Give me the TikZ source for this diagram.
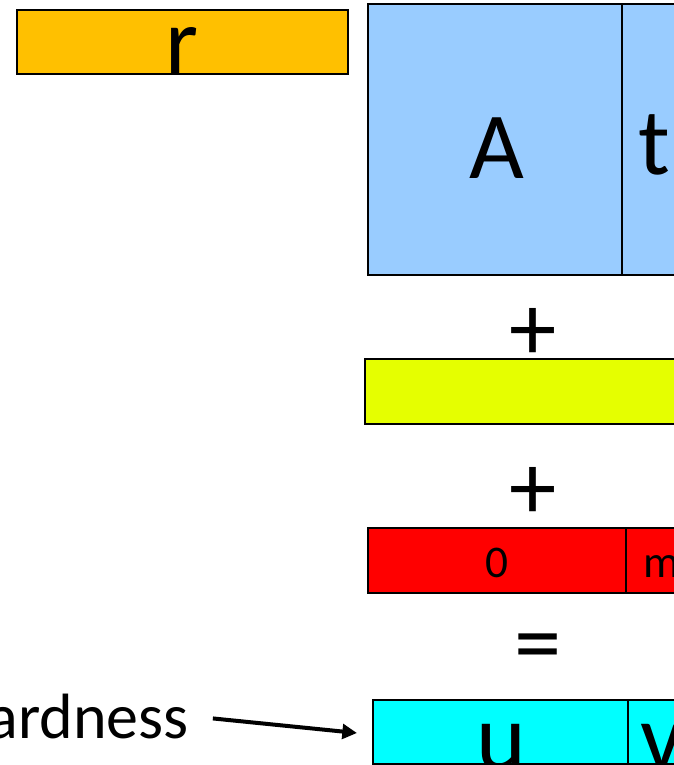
\documentclass[tikz,border=0pt]{standalone}
\usepackage{fontspec}
\setmainfont{Carlito}
\usetikzlibrary{arrows.meta}
\definecolor{rowOrange}{RGB}{255,192,0}
\definecolor{rowBlue}{RGB}{153,204,255}
\definecolor{rowLime}{RGB}{229,255,0}
\definecolor{rowRed}{RGB}{255,0,0}
\definecolor{rowCyan}{RGB}{0,255,255}
\begin{document}
\begin{tikzpicture}[x=0.75pt, y=-0.75pt, line join=miter]
% Sum of rows, pixel grid with y running down
\def\bigsz{\fontsize{71}{80}\selectfont}
\def\midsz{\fontsize{48}{56}\selectfont}
\def\smallsz{\fontsize{34}{40}\selectfont}
\providecommand{\rowLineWidth}{1.1pt}
\tikzset{
  cellbox/.style={draw=black, line width=\rowLineWidth},
  celltext/.style={anchor=base, inner sep=0pt}
}
\useasboundingbox (0,0) rectangle (674,765);
% Row r
\filldraw[cellbox, fill=rowOrange] (17,10) rectangle (348,74);
\node[celltext] (r) at (182,73) {\bigsz r};
% Block A | t
\filldraw[cellbox, fill=rowBlue] (368,4) rectangle (720,275);
\draw[cellbox] (622,4) -- (622,275);
\node[celltext] (A) at (497,178) {\bigsz A};
\node[celltext] (t) at (654,174) {\bigsz t};
% First plus
\node (plusA) at (533,334) {\bigsz +};
% Lime row
\filldraw[cellbox, fill=rowLime] (365,359) rectangle (720,424);
% Second plus
\node (plusB) at (533,493) {\bigsz +};
% Red row 0 | m
\filldraw[cellbox, fill=rowRed] (368,528) rectangle (720,593);
\draw[cellbox] (626,528) -- (626,593);
\node[celltext] (zero) at (497,577) {\smallsz 0};
\node[celltext, anchor=base west] (m) at (643,577) {\smallsz m};
% Equals
\node (eq) at (538,654) {\bigsz =};
% Result row u | v
\filldraw[cellbox, fill=rowCyan] (373,700) rectangle (720,764);
\draw[cellbox] (628,700) -- (628,764);
\node[celltext] (u) at (501,769) {\bigsz u};
\node[celltext, anchor=base west] (v) at (640,769) {\bigsz v};
% Label and arrow
\node[anchor=base east, inner sep=0pt] (lbl) at (189,738) {\midsz ardness};
\coordinate (tip) at (357,733);
\draw[line width=3pt, -{Triangle[length=11pt, width=11pt]}, shorten <=18pt] (lbl.east) -- (tip);
\end{tikzpicture}
\end{document}
